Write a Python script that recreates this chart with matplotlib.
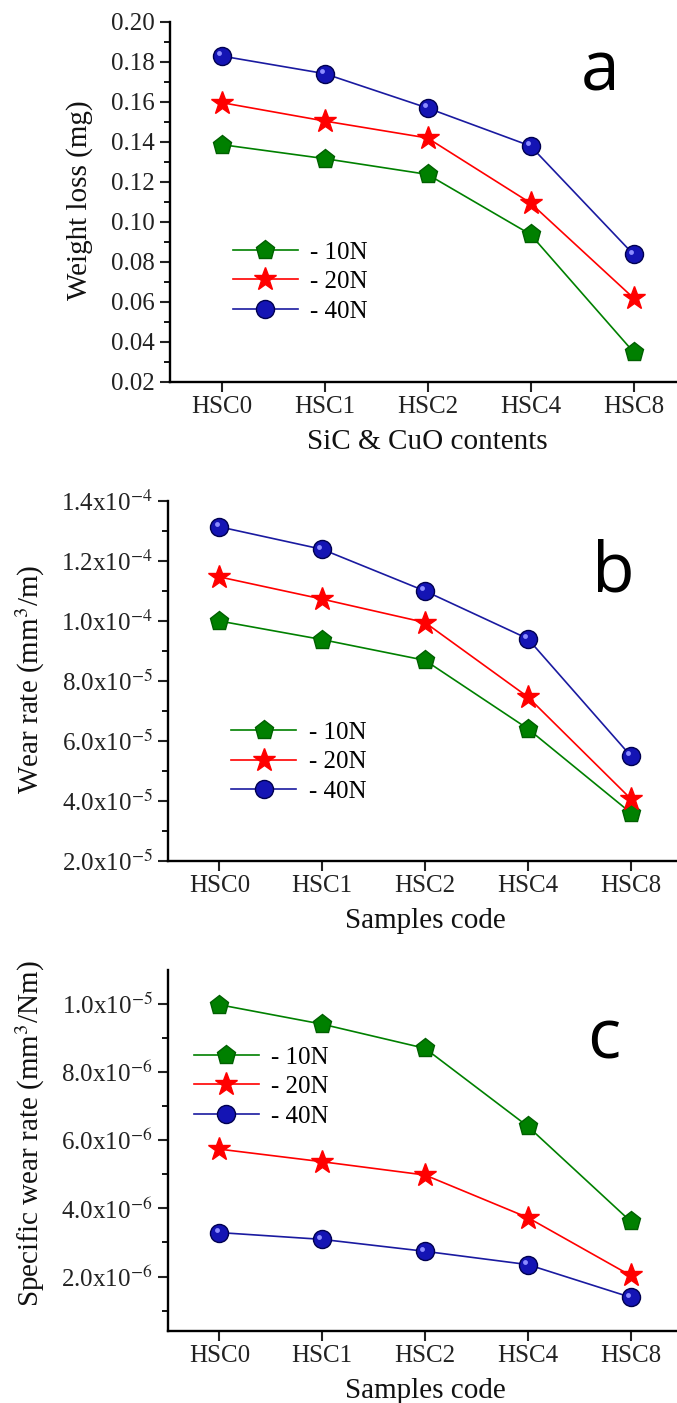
import numpy as np
import matplotlib
matplotlib.use("Agg")
import matplotlib.pyplot as plt
from matplotlib.ticker import FuncFormatter, FixedLocator
from matplotlib.transforms import ScaledTranslation

plt.rcParams['font.family'] = ['Liberation Serif', 'DejaVu Serif']
plt.rcParams['mathtext.fontset'] = 'stix'

samples = ["HSC0", "HSC1", "HSC2", "HSC4", "HSC8"]
loads = ["- 10N", "- 20N", "- 40N"]

# (a) weight loss, mg
weight_10 = [0.1387, 0.1317, 0.1238, 0.0938, 0.0350]
weight_20 = [0.1597, 0.1505, 0.1420, 0.1095, 0.0620]
weight_40 = [0.1830, 0.1742, 0.1570, 0.1380, 0.0838]

# (b) wear rate, mm3/m
wear_10 = [1.00e-4, 0.938e-4, 0.869e-4, 0.641e-4, 0.361e-4]
wear_20 = [1.147e-4, 1.073e-4, 0.995e-4, 0.747e-4, 0.408e-4]
wear_40 = [1.314e-4, 1.239e-4, 1.100e-4, 0.941e-4, 0.551e-4]

# (c) specific wear rate, mm3/Nm
spec_10 = [9.98e-6, 9.41e-6, 8.70e-6, 6.41e-6, 3.62e-6]
spec_20 = [5.74e-6, 5.37e-6, 4.98e-6, 3.73e-6, 2.03e-6]
spec_40 = [3.29e-6, 3.09e-6, 2.74e-6, 2.35e-6, 1.39e-6]

W, H = 677, 1403
fig = plt.figure(figsize=(W / 100, H / 100), dpi=100)

styles = [
    dict(color="#008000", marker="p", ms=14, mfc="#008000", mec="#006000"),
    dict(color="#ff0000", marker="*", ms=17, mfc="#ff0000", mec="#ff0000"),
    dict(color="#1a1aa0", marker="o", ms=13, mfc="#1414b4", mec="#000050"),
]


def px_axes(left, top, bottom, width):
    return fig.add_axes([left / W, (H - bottom) / H, width / W, (bottom - top) / H])


def sci_fmt(v, pos):
    exp = int(np.floor(np.log10(v) + 1e-9))
    mant = v / 10 ** exp
    return f"{mant:.1f}x10$^{{{exp}}}$"


def setup(ax, ylim, major, minor, ylabel, xlabel, letter, letter_xy, ylab_xy, leg_xy, fmt=None):
    ax.set_xlim(-0.5, 4.5)
    ax.set_ylim(*ylim)
    for s in ["top", "right"]:
        ax.spines[s].set_visible(False)
    for s in ["left", "bottom"]:
        ax.spines[s].set_linewidth(1.7)
    ax.set_xticks(range(len(samples)))
    ax.set_xticklabels(samples)
    ax.yaxis.set_major_locator(FixedLocator(major))
    ax.yaxis.set_minor_locator(FixedLocator(minor))
    if fmt is not None:
        ax.yaxis.set_major_formatter(FuncFormatter(fmt))
    else:
        ax.yaxis.set_major_formatter(FuncFormatter(lambda v, p: f"{v:.2f}"))
    ax.tick_params(axis="both", which="major", direction="out", length=7, width=1.5,
                   labelsize=18, pad=4, colors="#222222")
    ax.tick_params(axis="x", which="major", pad=3)
    ax.tick_params(axis="y", which="minor", direction="out", length=4, width=1.3)
    ax.set_ylabel(ylabel, fontsize=21, color="#111111")
    ax.yaxis.set_label_coords(*ylab_xy)
    ax.set_xlabel(xlabel, fontsize=21, color="#111111", va="top")
    ax.xaxis.set_label_coords(0.5, -0.13)
    ax.text(*letter_xy, letter, transform=ax.transAxes, fontsize=50,
            family="Open Sans", ha="center", va="center", color="black")
    ax.legend(loc="center left", bbox_to_anchor=leg_xy, frameon=False, fontsize=18,
              handlelength=2.6, handletextpad=0.5, labelspacing=0.28,
              borderpad=0, borderaxespad=0, numpoints=1)


def draw(ax, series):
    for vals, lab, st in zip(series, loads, styles):
        ax.plot(range(len(samples)), vals, lw=1.2, label=lab, **st)
    # small highlight on the blue balls
    shift = ax.transData + ScaledTranslation(-2 / 72, 2 / 72, fig.dpi_scale_trans)
    ax.plot(range(len(samples)), series[2], ls="none", marker="o", ms=3.5,
            color="#8c8cff", mec="none", transform=shift, label="_nolegend_")


# panel a
ax1 = px_axes(170, 22, 382, 515)
draw(ax1, [weight_10, weight_20, weight_40])
setup(ax1, (0.02, 0.20), np.arange(0.02, 0.2001, 0.02), np.arange(0.03, 0.2, 0.02),
      "Weight loss (mg)", "SiC & CuO contents", "a", (0.835, 0.861),
      (-0.15, 0.506), (0.122, 0.278))

# panel b
ax2 = px_axes(168, 501, 861, 514)
draw(ax2, [wear_10, wear_20, wear_40])
setup(ax2, (2e-5, 1.4e-4), np.arange(2, 14.01, 2) * 1e-5, np.arange(3, 14, 2) * 1e-5,
      "Wear rate (mm$^3$/m)", "Samples code", "b", (0.866, 0.80),
      (-0.235, 0.505), (0.123, 0.275), fmt=sci_fmt)

# panel c
ax3 = px_axes(168, 970, 1331, 514)
draw(ax3, [spec_10, spec_20, spec_40])
setup(ax3, (0.4e-6, 1.1e-5), np.arange(2, 10.01, 2) * 1e-6, np.arange(1, 11, 2) * 1e-6,
      "Specific wear rate (mm$^3$/Nm)", "Samples code", "c", (0.848, 0.806),
      (-0.235, 0.546), (0.05, 0.676), fmt=sci_fmt)

fig.savefig("out.png", dpi=100)
